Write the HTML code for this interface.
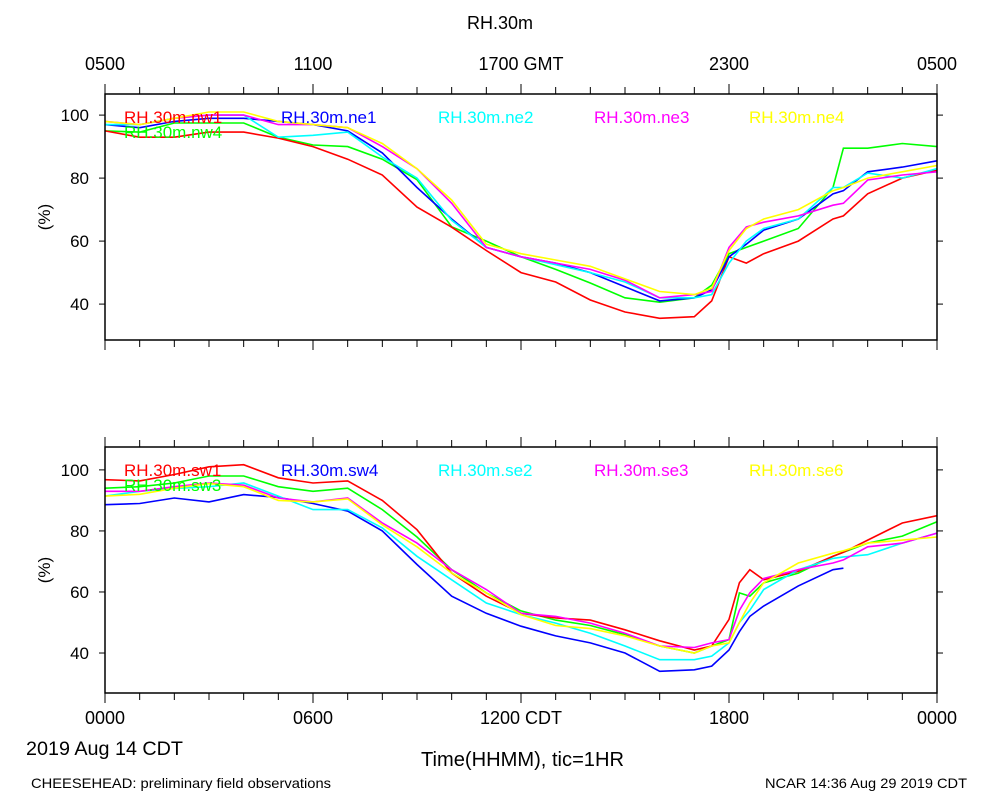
<!DOCTYPE html>
<html><head><meta charset="utf-8"><style>
html,body{margin:0;padding:0;background:#fff;}
svg{display:block;font-family:"Liberation Sans",sans-serif;}
</style></head><body>
<svg id="c" width="1000" height="800" viewBox="0 0 1000 800">
<text x="500" y="29" font-size="18" text-anchor="middle">RH.30m</text>
<g font-size="18" text-anchor="middle">
<text x="105" y="70">0500</text><text x="313" y="70">1100</text><text x="521" y="70">1700 GMT</text><text x="729" y="70">2300</text><text x="937" y="70">0500</text>
</g>
<g font-size="18" text-anchor="middle">
<text x="105" y="724">0000</text><text x="313" y="724">0600</text><text x="521" y="724">1200 CDT</text><text x="729" y="724">1800</text><text x="937" y="724">0000</text>
</g>
<text x="26" y="755" font-size="19" textLength="157" lengthAdjust="spacingAndGlyphs">2019 Aug 14 CDT</text>
<text x="421" y="766" font-size="20" textLength="203" lengthAdjust="spacingAndGlyphs">Time(HHMM), tic=1HR</text>
<text x="31" y="788" font-size="14" textLength="300" lengthAdjust="spacingAndGlyphs">CHEESEHEAD: preliminary field observations</text>
<text x="765" y="788" font-size="14" textLength="202" lengthAdjust="spacingAndGlyphs">NCAR 14:36 Aug 29 2019 CDT</text>
<g id="panels"></g>
</svg>
<script>
const topTimes=[0,1,2,3,4,5,6,7,8,9,10,11,12,13,14,15,16,17,17.5,18,18.5,19,20,21,21.3,22,23,24];
const nw1=[95,93,93,94.6,94.6,92.7,90,86,81,70.8,64.4,57,50,47,41.3,37.5,35.5,36,41,55,53,56,60,67,68,75,80,82.5];
const ne1=[97,96,98,99,99,98,97,95,88,77,67,58,55,53,50,45.5,41,42,44.5,55,59,63.5,67,75,76,82,83.5,85.5];
const ne2=[97,97,99,100,100,93,93.6,94.6,86.7,80,66.6,58,55,52.5,50,47,42,42,43,53,60,64,67,77,77,81.6,80,83];
const ne3=[98,97,99,100,100,97,97,96,90,83,72,58,55,53,51,47.6,42,43,44,58,64.5,66,68,71.4,72,79.4,81,82];
const ne4=[98,97,99,101,101,98,97,96,91,83,73,59,56,54,52,48,44,43,45,57,64,67,70,76,77,80,82,84];
const nw4=[95,94.6,97.5,97.5,97.5,93,90.5,90,86,79.5,64.5,60,55,51,46.7,42,40.6,42,46,56,58,60,64,77,89.5,89.5,91,90];
const botTimes=[0,1,2,3,4,5,6,7,8,9,10,11,12,13,14,15,16,17,17.5,18,18.3,18.6,19,20,21,21.3,22,23,24];
const sw1=[96.8,96.4,98.5,101,101.7,97.4,95.7,96.4,90,80.4,66.2,58.6,53,51.5,50.8,47.6,44,41,42.3,51,63,67.3,64,66.8,71.7,73,77,82.6,85];
const sw4=[88.6,89,90.8,89.5,91.9,91,89,86.5,80,69,58.6,53,48.8,45.6,43.3,40,34,34.5,35.7,41,47,52,55.4,62,67.3,67.8,null,null,null];
const sw3=[94,94.5,95.7,98,98,94.5,93,94,87,78,67.3,59.7,53.8,50.8,49,46,42.3,40,42.3,44.4,59.7,58.6,63,66.2,71.7,73,76,78.3,83];
const se2=[91.4,93,93.9,94.5,95.7,91.4,87,87,81,71.7,64,56.4,52.6,49.8,46.5,42.3,37.8,37.8,39,43.3,50,54,60.8,67.3,71,71.5,72.2,76,79.3];
const se3=[93,93,94.5,95.7,95,90.8,89.5,90.8,82.6,76,67.3,60.8,53,52,49.8,46.5,42.3,41.8,43.3,44.4,54,59.7,64.4,67.3,69.5,70.5,74.8,76,79.3];
const se6=[91.4,92,94,95.5,94.5,90,89.5,90.5,82,74.8,66.2,59.7,52.6,49,48,45.6,42.3,40,42.3,43.3,50,56.4,63,69.5,72.7,73.5,76,77,78];
const yTicks=[40,60,80,100];
const topNames=["RH.30m.nw1","RH.30m.ne1","RH.30m.ne2","RH.30m.ne3","RH.30m.ne4","RH.30m.nw4"];
const botNames=["RH.30m.sw1","RH.30m.sw4","RH.30m.se2","RH.30m.se3","RH.30m.se6","RH.30m.sw3"];
const colors=["#ff0000","#0000ff","#00ffff","#ff00ff","#ffff00","#00ff00"];
const NS="http://www.w3.org/2000/svg";
const root=document.getElementById('panels');
function mk(tag,attrs,parent){const e=document.createElementNS(NS,tag);for(const k in attrs)e.setAttribute(k,attrs[k]);parent.appendChild(e);return e;}
const X0=105,X1=937;
function xs(h){return X0+(X1-X0)*h/24;}
function panel(y0,y1,vmin,vmax,times,series,names,pname){
  const ys=v=>y1-(v-vmin)/(vmax-vmin)*(y1-y0);
  const g=mk('g',{},root);
  
  
  const order=[5,0,1,2,3,4];
  order.forEach(i=>{
    let d='',pen=false;
    times.forEach((t,j)=>{const v=series[i][j];if(v==null){pen=false;return;}d+=(pen?'L':'M')+xs(t).toFixed(1)+' '+ys(v).toFixed(1);pen=true;});
    const p=mk('path',{d:d,fill:'none',stroke:colors[i],'stroke-width':1.6},g);
    
    
  });
  const fr=mk('rect',{x:X0,y:y0,width:X1-X0,height:y1-y0,fill:'none',stroke:'#000','stroke-width':1.5},g);
  
  
  for(let h=0;h<=24;h++){
    const L=(h%6==0)?10:7;
    mk('line',{x1:xs(h),x2:xs(h),y1:y0,y2:y0-L,stroke:'#000','stroke-width':1},g);
    mk('line',{x1:xs(h),x2:xs(h),y1:y1,y2:y1+L,stroke:'#000','stroke-width':1},g);
  }
  yTicks.forEach(v=>{
    mk('line',{x1:X0,x2:X0-6,y1:ys(v),y2:ys(v),stroke:'#000'},g);
    mk('line',{x1:X1,x2:X1+6,y1:ys(v),y2:ys(v),stroke:'#000'},g);
    const t=mk('text',{x:89,y:ys(v)+6,'font-size':17,'text-anchor':'end'},g);
    t.textContent=v;
    
    
  });
  const yc=(y0+y1)/2;
  const yt=mk('text',{x:50,y:yc,'font-size':17,'text-anchor':'middle',transform:'rotate(-90 50 '+yc+')'},g);
  yt.textContent='(%)';
  
  
  const lx=[124,281,438,594,749,124];
  names.forEach((n,i)=>{
    const t=mk('text',{x:lx[i],y:y0+(i<5?29:44),'font-size':17,fill:colors[i]},g);
    t.textContent=n;
    
    
  });
}
panel(94,340,28.6,106.7,topTimes,[nw1,ne1,ne2,ne3,ne4,nw4],topNames,'top-panel');
panel(447,693,26.9,107.5,botTimes,[sw1,sw4,se2,se3,se6,sw3],botNames,'bottom-panel');
</script>
</body></html>
